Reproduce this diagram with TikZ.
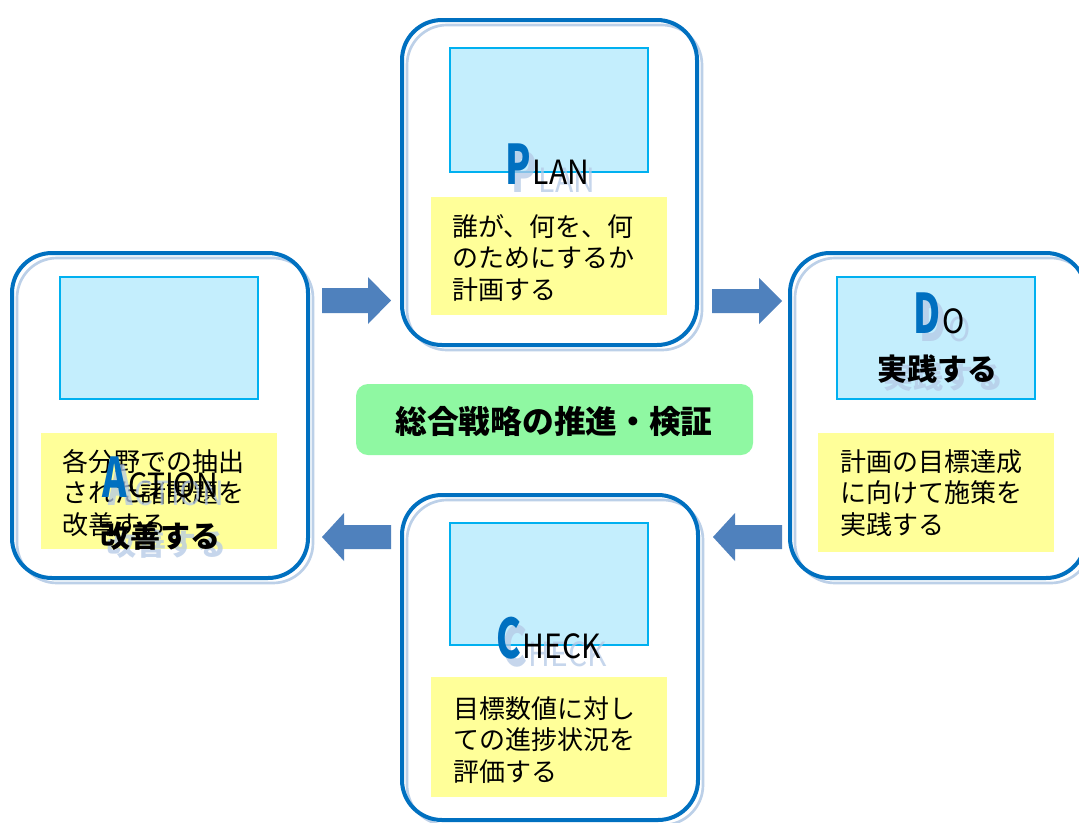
\documentclass[tikz,border=0pt]{standalone}
\usepackage{fontspec}
\usepackage{graphicx}
\newfontfamily\jp{Noto Sans CJK JP}
\definecolor{boxblue}{HTML}{0070C0}
\definecolor{shadowblue}{HTML}{BCD0E8}
\definecolor{shadowtext}{HTML}{B4C9E6}
\definecolor{arrowblue}{HTML}{4F81BD}
\definecolor{picfill}{HTML}{C4EEFD}
\definecolor{picborder}{HTML}{00B0F0}
\definecolor{noteyellow}{HTML}{FFFF99}
\definecolor{labelgreen}{HTML}{8FF8A2}
\tikzset{
  frame/.style={draw=boxblue, line width=3pt, rounded corners=30pt},
  frameshadow/.style={draw=shadowblue, line width=2pt, rounded corners=30pt},
  picbox/.style={draw=picborder, fill=picfill, line width=1pt},
  notebox/.style={fill=noteyellow},
  bodytext/.style={font=\jp\fontsize{19.5}{23.6}\selectfont, align=left, inner sep=0pt, anchor=north west},
  blockarrow/.style={fill=arrowblue},
  bigletter/.style={font=\jp\bfseries\fontsize{41}{41}\selectfont, text=boxblue, inner sep=0pt, anchor=base west},
  smallletter/.style={font=\jp\fontsize{25}{25}\selectfont, text=black, inner sep=0pt, anchor=base west},
  boldjp/.style={font=\jp\bfseries\fontsize{22.5}{22.5}\selectfont, text=black, inner sep=0pt},
  shadowed/.style={text=shadowtext, text opacity=0.75},
}
\newcommand\pdcaword[5]{%
  \node[bigletter, shadowed] (#1bs) at (#2+6,#3+8) {\scalebox{0.68}[1]{#4}};
  \node[smallletter, shadowed, xshift=1pt] (#1ss) at (#1bs.base east) {\scalebox{0.9}[1]{#5}};
  \node[bigletter] (#1b) at (#2,#3) {\scalebox{0.68}[1]{#4}};
  \node[smallletter, xshift=1pt] (#1s) at (#1b.base east) {\scalebox{0.9}[1]{#5}};}
\begin{document}
\begin{tikzpicture}[x=0.75pt,y=-0.75pt]
\useasboundingbox (0,0) rectangle (1079,822);
\clip (0,0) rectangle (1079,822);
\fill[white] (0,0) rectangle (1079,822);

% frames (shadow then main)
\draw[frameshadow] (407,25) rectangle (702,350);
\draw[frame] (402,20) rectangle (697,345);
\draw[frameshadow] (17,258) rectangle (313,583);
\draw[frame] (12,253) rectangle (308,578);
\draw[frameshadow] (795,258) rectangle (1091,583);
\draw[frame] (790,253) rectangle (1086,578);
\draw[frameshadow] (407,500) rectangle (703,825);
\draw[frame] (402,495) rectangle (698,820);

% picture placeholders
\draw[picbox] (450,48) rectangle (648,172);
\draw[picbox] (60,277) rectangle (258,399);
\draw[picbox] (837,277) rectangle (1035,399);
\draw[picbox] (450,523) rectangle (648,645);

% yellow notes
\fill[notebox] (431,197) rectangle (667,315);
\fill[notebox] (41,433) rectangle (277,549);
\fill[notebox] (818,433) rectangle (1054,552);
\fill[notebox] (431,677) rectangle (667,797);

% note texts
\node[bodytext] (plantext) at (452,214) {誰が、何を、何\\のためにするか\\計画する};
\node[bodytext] (dotext) at (840,449) {計画の目標達成\\に向けて施策を\\実践する};
\node[bodytext] (checktext) at (453,696) {目標数値に対し\\ての進捗状況を\\評価する};
\node[bodytext] (actiontext) at (62,449) {各分野での抽出\\された諸課題を\\改善する};

% PDCA labels
\pdcaword{plan}{505}{184}{P}{LAN}
\pdcaword{do}{913}{333}{D}{O}
\pdcaword{check}{496}{658}{C}{HECK}
\pdcaword{action}{102}{497}{A}{CTION}

\node[boldjp, shadowed] (doverbs) at (943,377) {実践する};
\node[boldjp] (doverb) at (937,369) {実践する};
\node[boldjp, shadowed] (actverbs) at (166,544) {改善する};
\node[boldjp] (actverb) at (160,536) {改善する};

% block arrows
\fill[blockarrow] (322,288) -- (368,288) -- (368,277) -- (391,300.5) -- (368,324) -- (368,313) -- (322,313) -- cycle;
\fill[blockarrow] (712,289) -- (759,289) -- (759,278) -- (782,301) -- (759,324) -- (759,313) -- (712,313) -- cycle;
\fill[blockarrow] (391,525) -- (344,525) -- (344,513) -- (322,537) -- (344,561) -- (344,549) -- (391,549) -- cycle;
\fill[blockarrow] (782,525) -- (735,525) -- (735,513) -- (713,537) -- (735,561) -- (735,549) -- (782,549) -- cycle;

% center label
\fill[labelgreen, rounded corners=9pt] (356,384) rectangle (753,455);
\node[font=\jp\bfseries\fontsize{23.8}{23.8}\selectfont, inner sep=0pt] (center) at (554,421) {総合戦略の推進・検証};
\end{tikzpicture}
\end{document}
